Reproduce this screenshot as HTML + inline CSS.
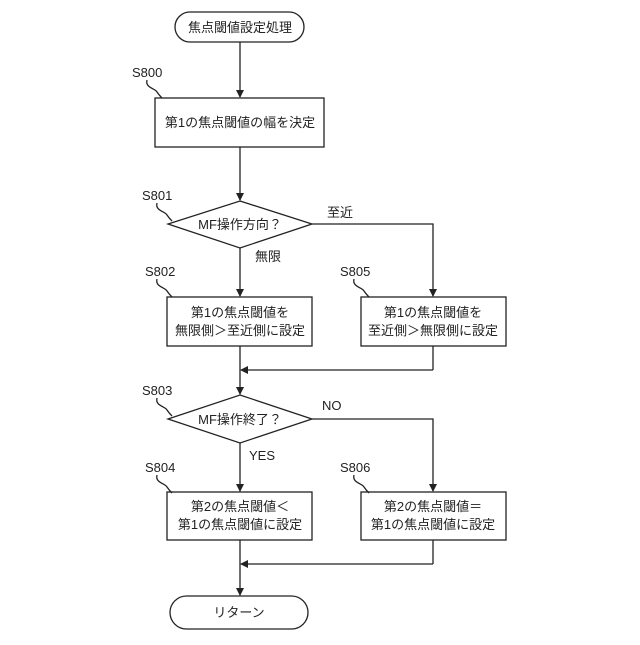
<!DOCTYPE html>
<html><head><meta charset="utf-8"><style>
body{margin:0;background:#fff}
svg text{font-family:"Liberation Sans","Noto Sans CJK JP",sans-serif;font-size:13px;fill:#222}
</style></head><body>
<svg width="640" height="640" viewBox="0 0 640 640" xmlns="http://www.w3.org/2000/svg">
<defs><marker id="a" markerWidth="8" markerHeight="8" refX="7" refY="4" orient="auto" markerUnits="userSpaceOnUse"><path d="M0,0 L8,4 L0,8 Z" fill="#222"/></marker></defs>
<g stroke="#222" stroke-width="1.3" fill="none">
<rect x="175" y="12" width="129" height="30" rx="15"/>
<line x1="240" y1="42" x2="240" y2="97" marker-end="url(#a)"/>
<rect x="155" y="98" width="169" height="49"/>
<line x1="240" y1="147" x2="240" y2="200" marker-end="url(#a)"/>
<polygon points="240,201 312,224 240,248 168,224"/>
<line x1="240" y1="248" x2="240" y2="296" marker-end="url(#a)"/>
<polyline points="312,224 433,224 433,296" marker-end="url(#a)"/>
<rect x="167" y="297" width="145" height="49"/>
<rect x="361" y="297" width="145" height="49"/>
<line x1="433" y1="346" x2="433" y2="370"/>
<line x1="433" y1="370" x2="241" y2="370" marker-end="url(#a)"/>
<line x1="240" y1="346" x2="240" y2="394" marker-end="url(#a)"/>
<polygon points="240,395 312,419 240,443 168,419"/>
<line x1="240" y1="443" x2="240" y2="491" marker-end="url(#a)"/>
<polyline points="312,419 433,419 433,491" marker-end="url(#a)"/>
<rect x="167" y="492" width="145" height="48"/>
<rect x="361" y="492" width="145" height="48"/>
<line x1="433" y1="540" x2="433" y2="564"/>
<line x1="433" y1="564" x2="241" y2="564" marker-end="url(#a)"/>
<line x1="240" y1="540" x2="240" y2="595" marker-end="url(#a)"/>
<rect x="170" y="596" width="138" height="33" rx="16.5"/>
<path d="M147,80 c-2,8 8,8 10,12 c2,3 3,4 5,6"/>
<path d="M157,203 c-2,8 8,8 10,12 c2,3 3,4 5,6"/>
<path d="M157,279 c-2,8 8,8 10,12 c2,3 3,4 5,6"/>
<path d="M354,279 c-2,8 8,8 10,12 c2,3 3,4 5,6"/>
<path d="M157,398 c-2,8 8,8 10,12 c2,3 3,4 5,6"/>
<path d="M157,475 c-2,8 8,8 10,12 c2,3 3,4 5,6"/>
<path d="M354,475 c-2,8 8,8 10,12 c2,3 3,4 5,6"/>
</g>
<g text-anchor="middle">
<text x="240" y="32">焦点閾値設定処理</text>
<text x="240" y="127">第1の焦点閾値の幅を決定</text>
<text x="240" y="229">MF操作方向？</text>
<text x="240" y="317">第1の焦点閾値を</text>
<text x="240" y="335">無限側＞至近側に設定</text>
<text x="433" y="317">第1の焦点閾値を</text>
<text x="433" y="335">至近側＞無限側に設定</text>
<text x="240" y="424">MF操作終了？</text>
<text x="240" y="511">第2の焦点閾値＜</text>
<text x="240" y="529">第1の焦点閾値に設定</text>
<text x="433" y="511">第2の焦点閾値＝</text>
<text x="433" y="529">第1の焦点閾値に設定</text>
<text x="239" y="617">リターン</text>
</g>
<text x="327" y="217">至近</text>
<text x="255" y="261">無限</text>
<text x="322" y="410">NO</text>
<text x="249" y="460">YES</text>
<text x="132" y="77">S800</text>
<text x="142" y="200">S801</text>
<text x="145" y="276">S802</text>
<text x="340" y="276">S805</text>
<text x="142" y="395">S803</text>
<text x="145" y="472">S804</text>
<text x="340" y="472">S806</text>
</svg>
</body></html>
